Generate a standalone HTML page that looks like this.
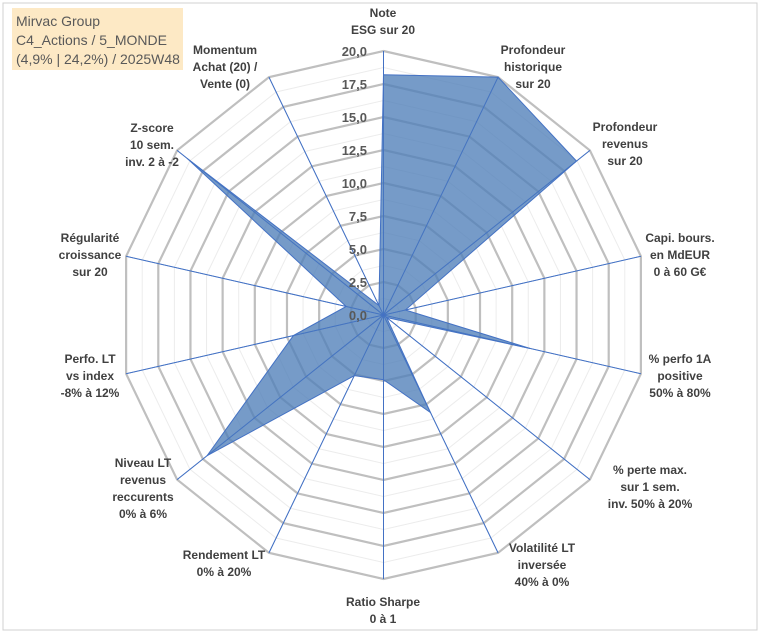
<!DOCTYPE html>
<html><head><meta charset="utf-8"><style>
body{margin:0;background:#fff;font-family:"Liberation Sans",sans-serif}
#wrap{position:relative;width:760px;height:633px}
#title{position:absolute;left:12px;top:8px;width:171px;height:62px;background:#fde9c5;color:#595959;font-family:"Liberation Sans",sans-serif;font-size:14px;line-height:19px;padding:4px 0 0 4px;box-sizing:border-box}
</style></head><body>
<div id="wrap">
<svg id="chart" width="760" height="633">
<rect x="3" y="3" width="754" height="627" fill="#fff" stroke="#d0d0d0"/>
</svg>
<div id="title">Mirvac Group<br>C4_Actions / 5_MONDE<br>(4,9% | 24,2%) / 2025W48</div>
</div>
<script>
const categories=[["Note","ESG sur 20"],["Profondeur","historique","sur 20"],["Profondeur","revenus","sur 20"],["Capi. bours.","en MdEUR","0 à 60 G€"],["% perfo 1A","positive","50% à 80%"],["% perte max.","sur 1 sem.","inv. 50% à 20%"],["Volatilité LT","inversée","40% à 0%"],["Ratio Sharpe","0 à 1"],["Rendement LT","0% à 20%"],["Niveau LT","revenus","reccurents","0% à 6%"],["Perfo. LT","vs index","-8% à 12%"],["Régularité","croissance","sur 20"],["Z-score","10 sem.","inv. 2 à -2"],["Momentum","Achat (20) /","Vente (0)"]];
const values=[18.2,20,18.7,1.7,11.4,0.3,8.2,4.9,5.1,17.1,7,2.9,19,0.8];
const tickLabels=["0,0","2,5","5,0","7,5","10,0","12,5","15,0","17,5","20,0"];
const maxVal=20;
const svg=document.getElementById('chart');const NS='http://www.w3.org/2000/svg';
const cx=383.5,cy=315,R=264,n=categories.length;
const labelPos=[[383,13],[533,50],[625,127],[680,238],[680,359],[650,470],[542,548],[383,602],[224,555],[143,463],[90,359],[90,238],[152,128],[225,50]];
function ang(i){return i*2*Math.PI/n;}
function pt(i,v){const r=v/maxVal*R,a=ang(i);return [cx+r*Math.sin(a),cy-r*Math.cos(a)];}
function mk(t,a){const e=document.createElementNS(NS,t);for(const k in a)e.setAttribute(k,a[k]);svg.appendChild(e);return e;}
for(let k=1;k<=16;k++){const v=k*1.25;const p=[];for(let i=0;i<n;i++)p.push(pt(i,v).join(','));
const major=k%2===0;
const g=mk('polygon',{points:p.join(' '),fill:'none',stroke:major?'#bfbfbf':'#ececec','stroke-width':major?2.2:1});

}
for(let i=0;i<n;i++){const p=pt(i,maxVal);const l=mk('line',{x1:cx,y1:cy,x2:p[0],y2:p[1],stroke:'#4472c4','stroke-width':1});

}
const sp=values.map((v,i)=>pt(i,v).join(',')).join(' ');
const poly=mk('polygon',{points:sp,fill:'#4f7fb8','fill-opacity':0.78,stroke:'#4472c4','stroke-width':1});


for(let i=0;i<n;i++){const p=pt(i,maxVal);const l=mk('line',{x1:cx,y1:cy,x2:p[0],y2:p[1],stroke:'#4472c4','stroke-width':0.8,'stroke-opacity':0.8});

}
tickLabels.forEach((t,k)=>{const y=cy-k*2.5/maxVal*R;const e=mk('text',{x:367,y:y+5,'text-anchor':'end','font-size':13,'font-weight':'bold',fill:'#595959','font-family':'Liberation Sans, sans-serif'});e.textContent=t;

});
categories.forEach((c,i)=>{const [x,y]=labelPos[i];const e=mk('text',{x:x,y:y+4,'text-anchor':'middle','font-size':12,'font-weight':'bold',fill:'#404040','font-family':'Liberation Sans, sans-serif'});


c.forEach((line,j)=>{const ts=document.createElementNS(NS,'tspan');ts.setAttribute('x',x);ts.setAttribute('y',y+4+j*17);ts.textContent=line;e.appendChild(ts);});});
</script>
</body></html>
